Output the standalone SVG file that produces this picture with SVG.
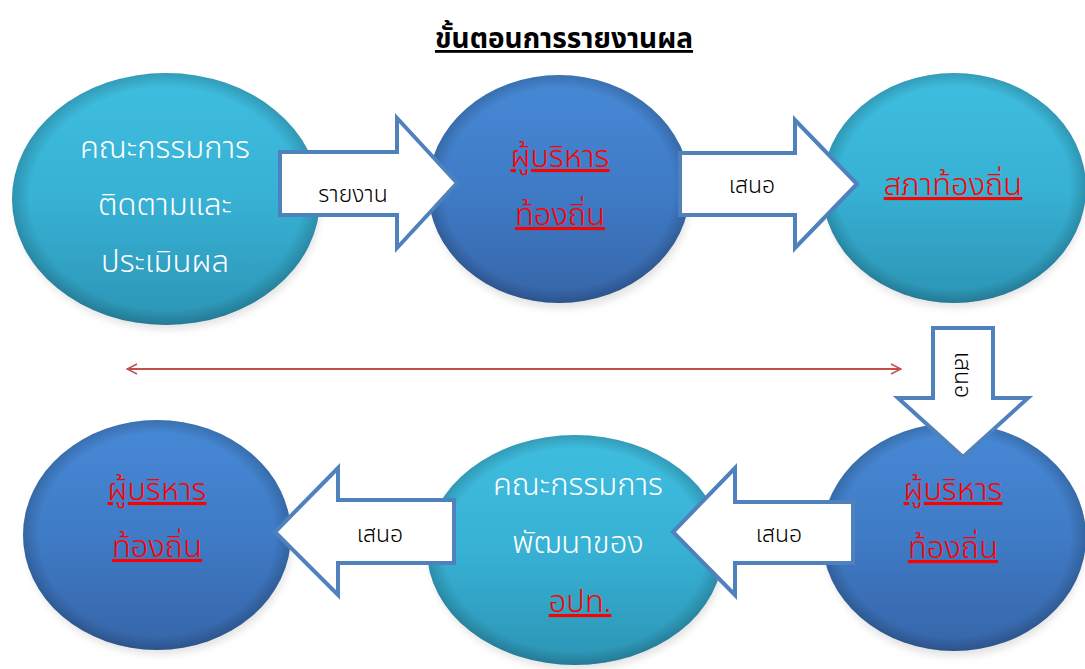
<svg xmlns="http://www.w3.org/2000/svg" width="1085" height="669" viewBox="0 0 1085 669">
<style>
.th{font-family:"Noto Sans Thai","Noto Sans Thai Looped","Tahoma","Noto Sans",sans-serif;}
.title{font-size:28px;font-weight:bold;fill:#000;text-decoration:underline;}
.wt{font-size:31px;fill:#ffffff;font-weight:300;}
.rd{font-size:31px;fill:#ff0000;text-decoration:underline;font-weight:300;}
.lb{font-size:23px;fill:#000;font-weight:300;}
.arr{fill:#ffffff;stroke:#4F81BD;stroke-width:4;stroke-linejoin:miter;}
.shadow{fill:#000;opacity:0.12;filter:url(#blur);}
</style>
<defs>
<linearGradient id="gLight" x1="0" y1="0" x2="0" y2="1">
<stop offset="0" stop-color="#3FBEE0"/>
<stop offset="0.5" stop-color="#37B1D4"/>
<stop offset="1" stop-color="#2C94B4"/>
</linearGradient>
<linearGradient id="gDark" x1="0" y1="0" x2="0" y2="1">
<stop offset="0" stop-color="#4789D6"/>
<stop offset="0.5" stop-color="#3F7BC6"/>
<stop offset="1" stop-color="#3665A8"/>
</linearGradient>
<radialGradient id="bevel" cx="0.5" cy="0.5" r="0.5">
<stop offset="0.88" stop-color="#000" stop-opacity="0"/>
<stop offset="1" stop-color="#000" stop-opacity="0.18"/>
</radialGradient>
<filter id="blur" x="-20%" y="-20%" width="140%" height="140%"><feGaussianBlur stdDeviation="4"/></filter>
<marker id="mh" viewBox="0 0 12 12" refX="11" refY="6" markerWidth="12" markerHeight="12" markerUnits="userSpaceOnUse" orient="auto-start-reverse">
<path d="M1,1 L11,6 L1,11" fill="none" stroke="#C0504D" stroke-width="1.5"/>
</marker>
</defs>
<rect width="1085" height="669" fill="#ffffff"/>

<text class="th title" x="564" y="48" text-anchor="middle">ขั้นตอนการรายงานผล</text>

<g id="n1">
<ellipse class="shadow" cx="168" cy="205" rx="152" ry="124"/>
<ellipse cx="166" cy="199" rx="154" ry="126" fill="url(#gLight)"/>
<ellipse cx="166" cy="199" rx="154" ry="126" fill="url(#bevel)"/>
<text class="th wt" x="165" y="158" text-anchor="middle">คณะกรรมการ</text>
<text class="th wt" x="165" y="215" text-anchor="middle">ติดตามและ</text>
<text class="th wt" x="165" y="272" text-anchor="middle">ประเมินผล</text>
</g>

<g id="n2">
<ellipse class="shadow" cx="561" cy="196" rx="129" ry="112"/>
<ellipse cx="559" cy="189" rx="131" ry="114" fill="url(#gDark)"/>
<ellipse cx="559" cy="189" rx="131" ry="114" fill="url(#bevel)"/>
<text class="th rd" x="560" y="167" text-anchor="middle">ผู้บริหาร</text>
<text class="th rd" x="560" y="225" text-anchor="middle">ท้องถิ่น</text>
</g>

<g id="n3">
<ellipse class="shadow" cx="955" cy="195" rx="129" ry="112"/>
<ellipse cx="954" cy="188" rx="132" ry="115" fill="url(#gLight)"/>
<ellipse cx="954" cy="188" rx="132" ry="115" fill="url(#bevel)"/>
<text class="th rd" x="953" y="195" text-anchor="middle">สภาท้องถิ่น</text>
</g>

<g id="n4">
<ellipse class="shadow" cx="159" cy="542" rx="132" ry="112"/>
<ellipse cx="157" cy="535" rx="134" ry="115" fill="url(#gDark)"/>
<ellipse cx="157" cy="535" rx="134" ry="115" fill="url(#bevel)"/>
<text class="th rd" x="157" y="500" text-anchor="middle">ผู้บริหาร</text>
<text class="th rd" x="157" y="557" text-anchor="middle">ท้องถิ่น</text>
</g>

<g id="n5">
<ellipse class="shadow" cx="577" cy="557" rx="146" ry="112"/>
<ellipse cx="575" cy="550" rx="148" ry="115" fill="url(#gLight)"/>
<ellipse cx="575" cy="550" rx="148" ry="115" fill="url(#bevel)"/>
<text class="th wt" x="578" y="495" text-anchor="middle">คณะกรรมการ</text>
<text class="th wt" x="578" y="553" text-anchor="middle">พัฒนาของ</text>
<text class="th rd" x="580" y="612" text-anchor="middle">อปท.</text>
</g>

<g id="n6">
<ellipse class="shadow" cx="955" cy="544" rx="129" ry="112"/>
<ellipse cx="954" cy="537" rx="132" ry="114" fill="url(#gDark)"/>
<ellipse cx="954" cy="537" rx="132" ry="114" fill="url(#bevel)"/>
<text class="th rd" x="953" y="500" text-anchor="middle">ผู้บริหาร</text>
<text class="th rd" x="953" y="558" text-anchor="middle">ท้องถิ่น</text>
</g>

<g id="connectors">
<path class="arr" d="M280,152 L397,152 L397,118 L457,183 L397,248 L397,215 L280,215 Z"/>
<text class="th lb" x="353" y="202" text-anchor="middle">รายงาน</text>

<path class="arr" d="M680,153 L795,153 L795,120 L857,184 L795,248 L795,215 L680,215 Z"/>
<text class="th lb" x="752" y="193" text-anchor="middle">เสนอ</text>

<path class="arr" d="M933,328 L993,328 L993,398 L1028,398 L963,457 L898,398 L933,398 Z"/>
<text class="th lb" x="0" y="0" text-anchor="middle" transform="translate(955,375) rotate(90)">เสนอ</text>

<path class="arr" d="M853,502 L735,502 L735,468 L673,532 L735,595 L735,563 L853,563 Z"/>
<text class="th lb" x="779" y="542" text-anchor="middle">เสนอ</text>

<path class="arr" d="M454,500 L338,500 L338,468 L275,532 L338,595 L338,563 L454,563 Z"/>
<text class="th lb" x="380" y="542" text-anchor="middle">เสนอ</text>

<line x1="127" y1="369" x2="901" y2="369" stroke="#C0504D" stroke-width="2" marker-start="url(#mh)" marker-end="url(#mh)"/>
</g>
</svg>
